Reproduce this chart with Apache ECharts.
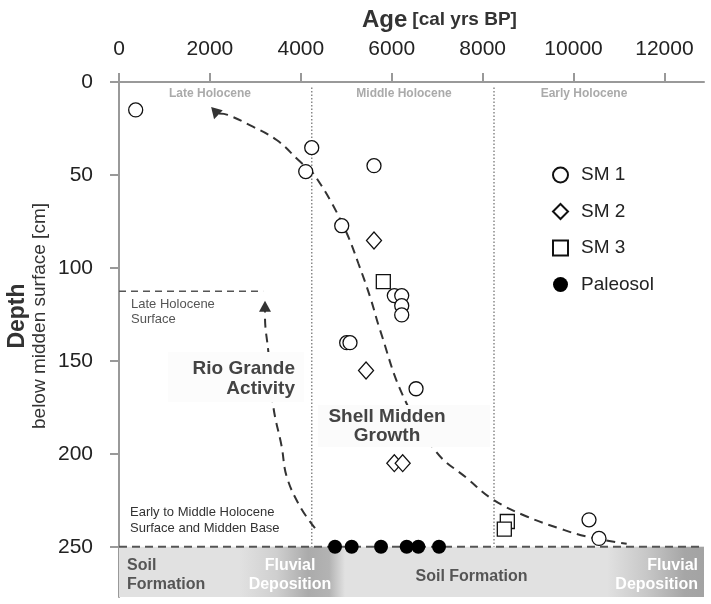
<!DOCTYPE html>
<html>
<head>
<meta charset="utf-8">
<script src="https://cdn.jsdelivr.net/npm/echarts@6/dist/echarts.min.js"></script>
<style>html,body{margin:0;padding:0;background:#fff;}#c{width:711px;height:604px;}</style>
</head>
<body>
<div id="c"></div>
<script>
// ---- data ----
const ageTicks = [0, 2000, 4000, 6000, 8000, 10000, 12000];
const depthTicks = [0, 50, 100, 150, 200, 250];

const sm1Age   = [367, 4240, 4108, 4900, 5610, 6057, 6220, 6220, 6220, 5009, 5082, 6535, 10340, 10560];
const sm1Depth = [15, 35.3, 48.2, 77.3, 45, 114.9, 114.9, 120.3, 125.3, 140.2, 140.2, 165, 235.5, 245.5];

const sm2Age   = [5610, 5435, 6057, 6241];
const sm2Depth = [85.3, 155.2, 205, 205];

const sm3Age   = [5815, 8543, 8477];
const sm3Depth = [107.4, 236.4, 240.5];

const paleoAge   = [4752, 5119, 5764, 6329, 6585, 7040];
const paleoDepth = [250, 250, 250, 250, 250, 250];

// Shell midden growth trend (dashed curve)
const growthAge   = [2200, 2391, 2900, 3469, 3982, 4239, 4349, 4642, 5009, 5265, 5522, 5742, 6255, 6989, 7649, 8235, 8969, 9700, 10289, 11169];
const growthDepth = [17.0, 17.7, 23.5, 31.2, 42.8, 48.2, 51.8, 63.4, 81.2, 97.5, 115.4, 133.3, 169.2, 199.2, 213, 224.7, 233.7, 240.2, 244.5, 248.4];

// Rio Grande activity trend (dashed curve)
const rioAge   = [4312, 3982, 3689, 3579, 3395, 3285, 3212, 3212];
const rioDepth = [240, 228.3, 212.2, 196.1, 174.6, 145, 126.2, 122];

// arrow heads
const arrowGrowth = [2123, 17.2];
const arrowRio = [3212, 120.6];

// reference lines
const holoceneBounds = [4240, 8250];
const surfaceDepth = 250;
const lateSurfaceDepth = 112.5;
const lateSurfaceEnd = 3170;
const xMax = 12870;
const yMax = 277;

// bottom band segments (ages)
const fluvial1 = [2662, 4972];
const fluvial2 = [10736, xMax];

const zip = (a, b) => a.map((v, i) => [v, b[i]]);

const FONT = '"Liberation Sans", Arial, Helvetica, sans-serif';
const chart = echarts.init(document.getElementById('c'), null, {renderer: 'canvas'});

const hollow = {color: '#fff', borderColor: '#111', borderWidth: 1.3, opacity: 1};

const option = {
  backgroundColor: '#fff',
  animation: false,
  textStyle: {fontFamily: FONT},
  title: {
    text: '{a|Age} {b|[cal yrs BP]}',
    left: 362, top: 8, padding: 0,
    textStyle: {
      rich: {
        a: {fontFamily: FONT, fontSize: 24, fontWeight: 'bold', color: '#333'},
        b: {fontFamily: FONT, fontSize: 19, color: '#333'}
      }
    }
  },
  legend: {
    data: ['SM 1', 'SM 2', 'SM 3', 'Paleosol'],
    orient: 'vertical',
    left: 547, top: 160,
    itemWidth: 15, itemHeight: 15, itemGap: 16.5,
    textStyle: {fontFamily: FONT, fontSize: 19, color: '#222', padding: [0, 0, 0, 8], lineHeight: 20}
  },
  grid: {left: 119, right: 7, top: 82, bottom: 7, containLabel: false},
  xAxis: {
    type: 'value', position: 'top', min: 0, max: xMax,
    axisLine: {lineStyle: {color: '#999', width: 2}},
    axisTick: {customValues: ageTicks, length: 9, lineStyle: {color: '#999', width: 2}},
    axisLabel: {customValues: ageTicks, margin: 22, fontSize: 21, color: '#222', fontFamily: FONT,
      formatter: v => String(v)},
    splitLine: {show: false}
  },
  yAxis: {
    type: 'value', inverse: true, min: 0, max: yMax,
    axisLine: {lineStyle: {color: '#999', width: 2}},
    axisTick: {customValues: depthTicks, length: 9, lineStyle: {color: '#999', width: 2}},
    axisLabel: {customValues: depthTicks, margin: 26, fontSize: 21, color: '#222', fontFamily: FONT,
      formatter: v => String(v)},
    splitLine: {show: false}
  },
  series: [
    {
      name: 'band', type: 'line', data: [[0, surfaceDepth], [xMax, surfaceDepth]],
      symbol: 'none', z: 3, silent: true,
      lineStyle: {color: '#555', width: 2, type: [8, 5]},
      markArea: {
        silent: true,
        data: [
          [{xAxis: 0, yAxis: surfaceDepth, itemStyle: {color: '#e1e1e1'}}, {xAxis: xMax, yAxis: yMax}],
          [{xAxis: fluvial1[0], yAxis: surfaceDepth, itemStyle: {color: {type: 'linear', x: 0, y: 0, x2: 1, y2: 0, colorStops: [
            {offset: 0, color: '#e1e1e1'}, {offset: 0.35, color: '#cfcfcf'}, {offset: 0.65, color: '#ababab'}, {offset: 0.85, color: '#b3b3b3'}, {offset: 1, color: '#e1e1e1'}]}}},
           {xAxis: fluvial1[1], yAxis: yMax}],
          [{xAxis: fluvial2[0], yAxis: surfaceDepth, itemStyle: {color: {type: 'linear', x: 0, y: 0, x2: 1, y2: 0, colorStops: [
            {offset: 0, color: '#e1e1e1'}, {offset: 0.4, color: '#c8c8c8'}, {offset: 0.8, color: '#a6a6a6'}, {offset: 1, color: '#a3a3a3'}]}}},
           {xAxis: fluvial2[1], yAxis: yMax}]
        ]
      }
    },
    {
      name: 'bound1', type: 'line', data: [[holoceneBounds[0], 3], [holoceneBounds[0], surfaceDepth]],
      symbol: 'none', silent: true, z: 1,
      lineStyle: {color: '#888', width: 1.5, type: [1.5, 2]}
    },
    {
      name: 'bound2', type: 'line', data: [[holoceneBounds[1], 3], [holoceneBounds[1], surfaceDepth]],
      symbol: 'none', silent: true, z: 1,
      lineStyle: {color: '#888', width: 1.5, type: [1.5, 2]}
    },
    {
      name: 'lateSurface', type: 'line', data: [[0, lateSurfaceDepth], [lateSurfaceEnd, lateSurfaceDepth]],
      symbol: 'none', silent: true,
      lineStyle: {color: '#555', width: 1.5, type: [7, 5]}
    },
    {
      name: 'growth', type: 'line', data: zip(growthAge, growthDepth),
      symbol: 'none', smooth: 0.4, silent: true, z: 2,
      lineStyle: {color: '#333', width: 2, type: [9, 6]}
    },
    {
      name: 'rio', type: 'line', data: zip(rioAge, rioDepth),
      symbol: 'none', smooth: 0.4, silent: true, z: 2,
      lineStyle: {color: '#333', width: 2, type: [9, 6]}
    },
    {
      name: 'arrows', type: 'scatter', silent: true, z: 4,
      data: [
        {value: arrowGrowth, symbolRotate: 165},
        {value: arrowRio, symbolRotate: 0}
      ],
      symbol: 'triangle', symbolSize: [12, 11],
      itemStyle: {color: '#333', opacity: 1}
    },
    {
      name: 'SM 1', type: 'scatter', data: zip(sm1Age, sm1Depth), z: 6,
      symbol: 'circle', symbolSize: 14, itemStyle: hollow
    },
    {
      name: 'SM 2', type: 'scatter', data: zip(sm2Age, sm2Depth), z: 6,
      symbol: 'diamond', symbolSize: [15, 17], itemStyle: hollow
    },
    {
      name: 'SM 3', type: 'scatter', data: zip(sm3Age, sm3Depth), z: 6,
      symbol: 'rect', symbolSize: 14, itemStyle: hollow
    },
    {
      name: 'Paleosol', type: 'scatter', data: zip(paleoAge, paleoDepth), z: 6,
      symbol: 'circle', symbolSize: 14, itemStyle: {color: '#000', opacity: 1}
    }
  ],
  graphic: [
    // axis titles (left)
    {type: 'text', x: 18, y: 316, rotation: Math.PI / 2, z: 100,
      style: {text: 'Depth', font: 'bold 23px ' + FONT, fill: '#333', align: 'center', verticalAlign: 'middle'}},
    {type: 'text', x: 40, y: 316, rotation: Math.PI / 2, z: 100,
      style: {text: 'below midden surface [cm]', font: '19px ' + FONT, fill: '#333', align: 'center', verticalAlign: 'middle'}},
    // epoch labels
    {type: 'text', x: 210, y: 94, z: 100, style: {text: 'Late Holocene', font: 'bold 12px ' + FONT, fill: '#aaa', align: 'center', verticalAlign: 'middle'}},
    {type: 'text', x: 404, y: 94, z: 100, style: {text: 'Middle Holocene', font: 'bold 12px ' + FONT, fill: '#aaa', align: 'center', verticalAlign: 'middle'}},
    {type: 'text', x: 584, y: 94, z: 100, style: {text: 'Early Holocene', font: 'bold 12px ' + FONT, fill: '#aaa', align: 'center', verticalAlign: 'middle'}},
    // annotations
    {type: 'text', x: 131, y: 312, z: 100, style: {text: 'Late Holocene\nSurface', font: '13px ' + FONT, lineHeight: 15.5, fill: '#555', align: 'left', verticalAlign: 'middle'}},
    {type: 'text', x: 130, y: 520.5, z: 100, style: {text: 'Early to Middle Holocene\nSurface and Midden Base', font: '13px ' + FONT, lineHeight: 15.6, fill: '#333', align: 'left', verticalAlign: 'middle'}},
    {type: 'rect', z: 99, shape: {x: 168, y: 352, width: 136, height: 50}, style: {fill: '#fcfcfc'}},
    {type: 'text', x: 295, y: 379, z: 100, style: {text: 'Rio Grande\nActivity', font: 'bold 19px ' + FONT, lineHeight: 19.5, fill: '#444', align: 'right', verticalAlign: 'middle'}},
    {type: 'rect', z: 99, shape: {x: 318, y: 405, width: 172, height: 42}, style: {fill: '#fbfbfb'}},
    {type: 'text', x: 387, y: 426.5, z: 100, style: {text: 'Shell Midden\nGrowth', font: 'bold 19px ' + FONT, lineHeight: 19.5, fill: '#444', align: 'center', verticalAlign: 'middle'}},
    // band labels
    {type: 'text', x: 127, y: 575, z: 100, style: {text: 'Soil\nFormation', font: 'bold 16px ' + FONT, lineHeight: 18.5, fill: '#555', align: 'left', verticalAlign: 'middle'}},
    {type: 'text', x: 290, y: 575, z: 100, style: {text: 'Fluvial\nDeposition', font: 'bold 16px ' + FONT, lineHeight: 18.5, fill: '#fff', align: 'center', verticalAlign: 'middle'}},
    {type: 'text', x: 471.5, y: 577, z: 100, style: {text: 'Soil Formation', font: 'bold 16px ' + FONT, fill: '#555', align: 'center', verticalAlign: 'middle'}},
    {type: 'text', x: 698, y: 575, z: 100, style: {text: 'Fluvial\nDeposition', font: 'bold 16px ' + FONT, lineHeight: 18.5, fill: '#fff', align: 'right', verticalAlign: 'middle'}}
  ]
};
chart.setOption(option);
</script>
</body>
</html>
